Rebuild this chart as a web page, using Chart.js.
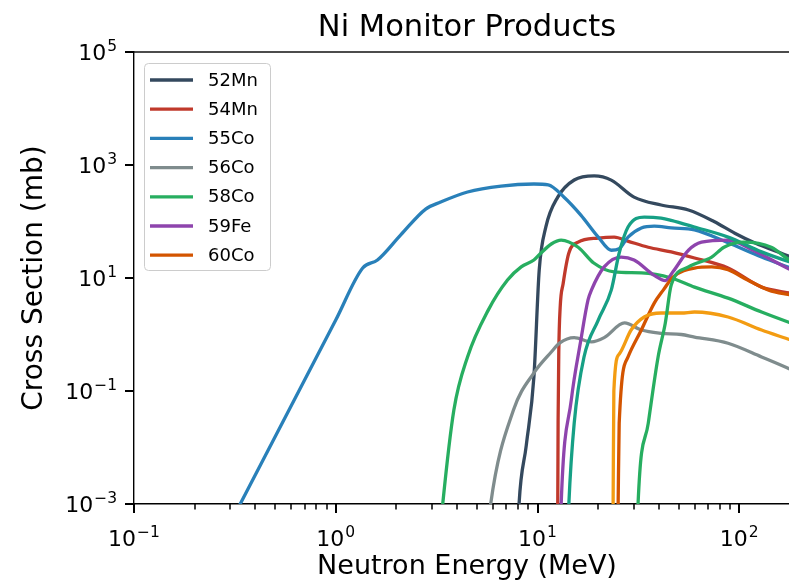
<!DOCTYPE html>
<html>
<head>
<meta charset="utf-8">
<script src="https://cdn.jsdelivr.net/npm/chart.js@4.4.1/dist/chart.umd.min.js"></script>
<style>
  html, body { margin: 0; padding: 0; background: #fff; }
  #wrap { width: 789px; height: 581px; overflow: hidden; }
  canvas { display: block; }
</style>
</head>
<body>
<div id="wrap"><canvas id="chart" width="934" height="583"></canvas></div>
<script>
// energies in MeV, cross sections in mb
const mn52E  = [7.9, 8.1, 8.8, 9.6, 10.2, 11.0, 12.6, 15.2, 19.1, 23.2, 30.1, 41, 56, 75, 95, 119, 180, 200];
const mn52Xs = [1e-4, 1e-3, 0.011, 0.18, 14, 80, 270, 543, 640, 540, 270, 196, 160, 100, 62, 42, 23.5, 20];

const mn54E  = [12.5, 12.6, 12.65, 12.75, 12.95, 13.4, 14.3, 15.9, 20, 24, 28, 35.4, 46, 60, 88, 129, 180, 200];
const mn54Xs = [1e-4, 1e-3, 0.03, 0.5, 3, 8, 27.7, 43, 51, 53, 45, 35, 29, 22.6, 15, 6.9, 5.4, 5];

const co55E  = [0.24, 0.336, 1.0, 1.36, 1.61, 2.1, 2.79, 3.31, 4.5, 6.6, 9.6, 11.3, 13.5, 16.4, 20, 23.2, 25.4, 28.1, 32.7, 37.9, 46, 60, 88, 129, 180, 200];
const co55Xs = [1e-4, 1e-3, 1.8, 15, 20.8, 58, 166, 221, 333, 424, 461, 446, 272, 130, 53, 31, 33, 53, 77, 83, 77, 71, 42, 23.5, 15, 13];

const co56E  = [5.5, 5.86, 7.6, 9.6, 11.7, 12.9, 15.2, 18.5, 21.4, 27, 32.7, 41, 51.6, 60, 88, 129, 180, 200];
const co56Xs = [1e-4, 1e-3, 0.046, 0.21, 0.49, 0.71, 0.88, 0.74, 0.88, 1.6, 1.2, 1.05, 1.0, 0.9, 0.7, 0.4, 0.24, 0.2];

const co58E  = [3.2, 3.39, 3.85, 4.5, 5.7, 7.1, 8.3, 9.6, 10.4, 11.7, 13.1, 15.9, 19, 24, 32.7, 46, 60, 88, 129, 180, 200];
const co58Xs = [1e-4, 1e-3, 0.046, 0.4, 2.7, 9.2, 15.7, 20.8, 27.7, 40, 47, 35, 18.4, 12.8, 12.3, 10, 6.9, 4.4, 2.5, 1.6, 1.4];

const fe59E  = [12.9, 13.1, 14.7, 16.4, 17.8, 18.5, 21.4, 26, 30.1, 37.9, 43, 47, 56, 65, 88, 117, 180, 200];
const fe59Xs = [1e-4, 1e-3, 0.069, 0.8, 4.1, 6.1, 15.7, 23.5, 20.8, 11.1, 9, 13, 31, 43, 47, 31, 14, 12];

const co60E  = [24.9, 25.1, 25.4, 28.1, 32.7, 37.9, 42, 47, 60, 73, 88, 110, 140, 180, 200];
const co60Xs = [1e-4, 1e-3, 0.027, 0.4, 1.2, 3.6, 6.1, 10.4, 15, 15.7, 14, 9.2, 6.1, 5, 4.6];

// curves drawn without a legend entry
const tealE  = [14.0, 14.3, 15.2, 17, 20, 23.2, 25.4, 28.1, 33.8, 41, 46, 60, 88, 129, 180, 200];
const tealXs = [1e-4, 1e-3, 0.027, 0.4, 1.8, 6.1, 27.7, 80, 120, 115, 105, 80, 53, 29, 19, 17];

const amberE  = [23.6, 23.7, 23.9, 25.4, 29.1, 33.8, 41, 51.6, 60, 88, 129, 180, 200];
const amberXs = [1e-4, 1e-3, 0.1, 0.45, 1.2, 2.04, 2.4, 2.4, 2.5, 2.04, 1.2, 0.8, 0.7];

const green2E  = [31.0, 31.5, 35.4, 39.6, 43, 46, 56, 73, 84, 105, 144, 180, 200];
const green2Xs = [1e-4, 1e-3, 0.027, 0.4, 1.6, 7.5, 15.7, 23.5, 35, 43, 35, 20, 17];

// tick values and their labels, written as base + exponent
const xTickValues = [0.1, 1, 10, 100];
const xTickExps = ['−1', '0', '1', '2'];
const xMinorTicks = [0.2, 0.3, 0.4, 0.5, 0.6, 0.7, 0.8, 0.9, 2, 3, 4, 5, 6, 7, 8, 9, 20, 30, 40, 50, 60, 70, 80, 90, 200];
const yTickValues = [1e-3, 1e-1, 1e1, 1e3, 1e5];
const yTickExps = ['−3', '−1', '1', '3', '5'];

const FONT = "'DejaVu Sans', sans-serif";

const series = [
  { label: '52Mn', e: mn52E, xs: mn52Xs, color: '#34495e' },
  { label: '54Mn', e: mn54E, xs: mn54Xs, color: '#c0392b' },
  { label: '55Co', e: co55E, xs: co55Xs, color: '#2980b9' },
  { label: '56Co', e: co56E, xs: co56Xs, color: '#7f8c8d' },
  { label: '58Co', e: co58E, xs: co58Xs, color: '#27ae60' },
  { label: '59Fe', e: fe59E, xs: fe59Xs, color: '#8e44ad' },
  { label: '60Co', e: co60E, xs: co60Xs, color: '#d35400' },
  { label: '', e: tealE, xs: tealXs, color: '#16a085' },
  { label: '', e: amberE, xs: amberXs, color: '#f39c12' },
  { label: '', e: green2E, xs: green2Xs, color: '#27ae60' }
];

const datasets = series.map((s, i) => ({
  label: s.label,
  data: s.e.map((e, k) => ({ x: e, y: s.xs[k] })),
  borderColor: s.color,
  backgroundColor: s.color,
  borderWidth: 3.3,
  pointRadius: 0,
  fill: false,
  cubicInterpolationMode: 'monotone',
  order: -i
}));

// draws "10" with a raised exponent; anchor 'center' or 'right'
function powerLabel(ctx, exp, x, baseline, anchor) {
  ctx.font = '22px ' + FONT;
  const wb = ctx.measureText('10').width;
  ctx.font = '15.5px ' + FONT;
  const we = ctx.measureText(exp).width;
  const total = wb + 1 + we;
  const x0 = anchor === 'center' ? x - total / 2 : x - total;
  ctx.font = '22px ' + FONT;
  ctx.fillText('10', x0, baseline);
  ctx.font = '15.5px ' + FONT;
  ctx.fillText(exp, x0 + wb + 1, baseline - 9.5);
}

// spines, tick marks, tick labels and the boxed legend, matplotlib style
const decor = {
  id: 'decor',
  afterDraw(chart) {
    const ctx = chart.ctx;
    const a = chart.chartArea;
    const xs = chart.scales.x, ys = chart.scales.y;
    ctx.save();
    ctx.fillStyle = '#000';
    ctx.fillRect(a.left, a.top - 0.7, a.right - a.left, 1.4);

    xTickValues.forEach(v => {
      const p = Math.round(xs.getPixelForValue(v));
      ctx.fillRect(p - 1, a.bottom, 2, 9);
    });
    xMinorTicks.forEach(v => {
      const p = Math.round(xs.getPixelForValue(v));
      ctx.fillRect(p - 0.75, a.bottom, 1.5, 5.5);
    });
    yTickValues.forEach(v => {
      const p = Math.round(ys.getPixelForValue(v));
      ctx.fillRect(a.left - 9, p - 1, 9, 2);
    });

    ctx.textBaseline = 'alphabetic';
    ctx.textAlign = 'left';
    xTickValues.forEach((v, i) => {
      powerLabel(ctx, xTickExps[i], xs.getPixelForValue(v), a.bottom + 42, 'center');
    });
    yTickValues.forEach((v, i) => {
      powerLabel(ctx, yTickExps[i], a.left - 17, ys.getPixelForValue(v) + 8, 'right');
    });

    // legend
    const shown = series.filter(s => s.label);
    const bx = 144.5, by = 63.5, bw = 126, bh = 207;
    ctx.beginPath();
    ctx.roundRect(bx, by, bw, bh, 4);
    ctx.fillStyle = 'rgba(255,255,255,0.8)';
    ctx.fill();
    ctx.strokeStyle = '#cccccc';
    ctx.lineWidth = 1;
    ctx.stroke();
    ctx.font = '18px ' + FONT;
    ctx.textBaseline = 'middle';
    shown.forEach((s, i) => {
      const y = 80 + i * 29.2;
      ctx.strokeStyle = s.color;
      ctx.lineWidth = 3.3;
      ctx.beginPath();
      ctx.moveTo(150, y); ctx.lineTo(193, y);
      ctx.stroke();
      ctx.fillStyle = '#000';
      ctx.fillText(s.label, 208, y + 1);
    });
    ctx.restore();
  }
};

new Chart(document.getElementById('chart'), {
  type: 'line',
  data: { datasets },
  options: {
    responsive: false,
    animation: false,
    layout: { padding: 0 },
    plugins: {
      legend: { display: false },
      tooltip: { enabled: false },
      title: {
        display: true,
        text: 'Ni Monitor Products',
        color: '#000',
        font: { family: FONT, size: 30.5, weight: 'normal', lineHeight: 1.2 },
        padding: { top: 10, bottom: 5.4 }
      }
    },
    scales: {
      x: {
        type: 'logarithmic',
        position: 'bottom',
        min: 0.1,
        max: 200,
        afterBuildTicks: s => { s.ticks = xTickValues.map(v => ({ value: v })); },
        afterFit: s => { s.height = 79; },
        ticks: { display: false },
        grid: { display: true, drawOnChartArea: false, drawTicks: false },
        border: { display: true, color: '#000', width: 1.4 },
        title: {
          display: true, text: 'Neutron Energy (MeV)', color: '#000',
          font: { family: FONT, size: 27, lineHeight: 1.2 },
          padding: { top: 0, bottom: 0 }
        }
      },
      y: {
        type: 'logarithmic',
        position: 'left',
        min: 1e-3,
        max: 1e5,
        afterBuildTicks: s => { s.ticks = yTickValues.map(v => ({ value: v })); },
        afterFit: s => { s.width = 134; },
        ticks: { display: false },
        grid: { display: true, drawOnChartArea: false, drawTicks: false },
        border: { display: true, color: '#000', width: 1.4 },
        title: {
          display: true, text: 'Cross Section (mb)', color: '#000',
          font: { family: FONT, size: 28, lineHeight: 1.2 },
          padding: { top: 18, bottom: 0 }
        }
      },
      yRight: {
        type: 'linear',
        position: 'right',
        display: true,
        ticks: { display: false },
        grid: { display: false },
        border: { display: false },
        afterFit: s => { s.width = 134; }
      }
    }
  },
  plugins: [decor]
});
</script>
</body>
</html>
